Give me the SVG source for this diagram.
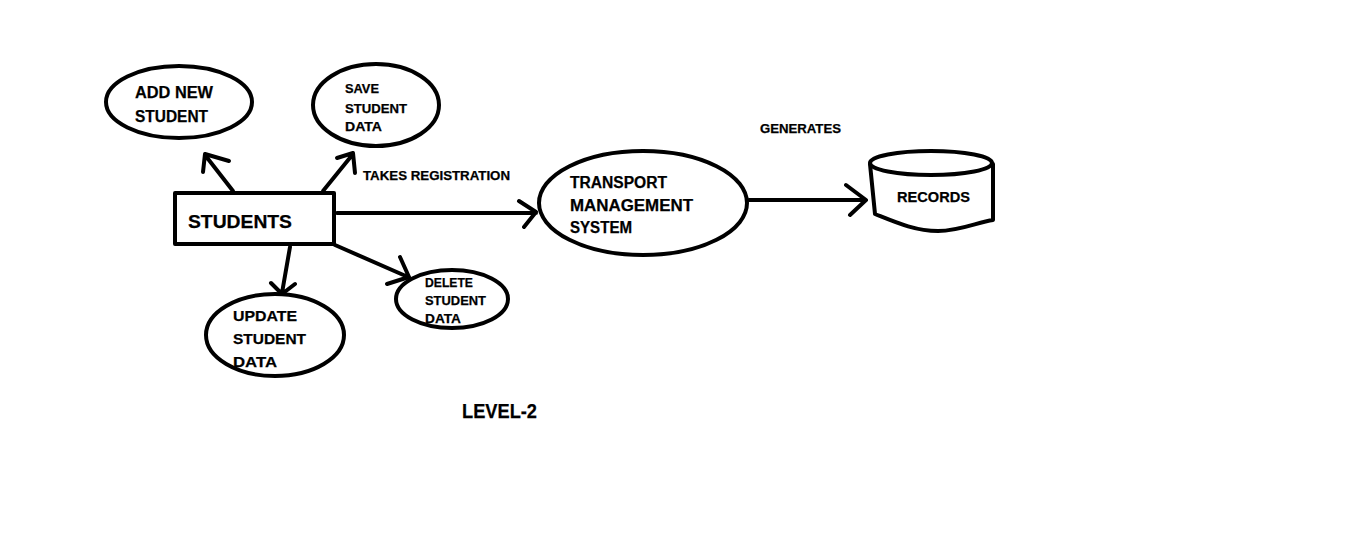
<svg xmlns="http://www.w3.org/2000/svg" width="1354" height="556" viewBox="0 0 1354 556">
<style>
.s{fill:none;stroke:#000;stroke-width:4;stroke-linecap:round;stroke-linejoin:round}
.c{fill:none;stroke:#000;stroke-width:4;stroke-linecap:round;stroke-linejoin:round}
text{font-family:"Liberation Sans",Arial,sans-serif;font-weight:bold;fill:#000;stroke:#000;stroke-width:0.25}
</style>
<rect width="1354" height="556" fill="#fff"/>
<g id="connectors">
<path class="c" d="M233,191 L205,155 M229,161 L205,154 L203,172"/>
<path class="c" d="M323,191 L353,154 M337,158 L353,153 L355,173"/>
<path class="c" d="M337,213 L536,213 M519,201 L536,212 L524,227"/>
<path class="c" d="M290,247 L282,293 M271,283 L282,294 L295,284"/>
<path class="c" d="M335,245 L408,277 M400,257 L409,277 L387,284"/>
<path class="c" d="M749,200 L865,200 M846,185 L866,200 L850,215"/>
<text x="363" y="180" font-size="13" textLength="147" lengthAdjust="spacingAndGlyphs">TAKES REGISTRATION</text>
<text x="760" y="133" font-size="12.6" textLength="81" lengthAdjust="spacingAndGlyphs">GENERATES</text>
</g>
<g id="students">
<rect class="s" x="175" y="193" width="159" height="51"/>
<text x="188" y="228" font-size="18.6" textLength="104" lengthAdjust="spacingAndGlyphs">STUDENTS</text>
</g>
<g id="add-new-student">
<ellipse class="s" cx="179" cy="102" rx="73" ry="36"/>
<text x="135" y="98" font-size="16.3" textLength="78" lengthAdjust="spacingAndGlyphs">ADD NEW</text>
<text x="135" y="122" font-size="16.3" textLength="73" lengthAdjust="spacingAndGlyphs">STUDENT</text>
</g>
<g id="save-student-data">
<ellipse class="s" cx="376" cy="105" rx="63" ry="41"/>
<text x="345" y="93" font-size="12.5" textLength="34" lengthAdjust="spacingAndGlyphs">SAVE</text>
<text x="345" y="113" font-size="12.5" textLength="62" lengthAdjust="spacingAndGlyphs">STUDENT</text>
<text x="345" y="131" font-size="12.5" textLength="37" lengthAdjust="spacingAndGlyphs">DATA</text>
</g>
<g id="update-student-data">
<ellipse class="s" cx="275" cy="335" rx="69" ry="41"/>
<text x="233" y="321" font-size="15" textLength="64" lengthAdjust="spacingAndGlyphs">UPDATE</text>
<text x="233" y="344" font-size="15" textLength="73" lengthAdjust="spacingAndGlyphs">STUDENT</text>
<text x="233" y="367" font-size="15" textLength="44" lengthAdjust="spacingAndGlyphs">DATA</text>
</g>
<g id="delete-student-data">
<ellipse class="s" cx="452" cy="299" rx="56" ry="29"/>
<text x="425" y="287" font-size="13" textLength="48" lengthAdjust="spacingAndGlyphs">DELETE</text>
<text x="425" y="305" font-size="13" textLength="61" lengthAdjust="spacingAndGlyphs">STUDENT</text>
<text x="425" y="323" font-size="13" textLength="36" lengthAdjust="spacingAndGlyphs">DATA</text>
</g>
<g id="transport-management-system">
<ellipse class="s" cx="643" cy="203" rx="104" ry="52"/>
<text x="570" y="188" font-size="16" textLength="97" lengthAdjust="spacingAndGlyphs">TRANSPORT</text>
<text x="570" y="211" font-size="16" textLength="123" lengthAdjust="spacingAndGlyphs">MANAGEMENT</text>
<text x="570" y="233" font-size="16" textLength="62" lengthAdjust="spacingAndGlyphs">SYSTEM</text>
</g>
<g id="records">
<ellipse class="s" cx="931" cy="163" rx="61" ry="12"/>
<path class="s" d="M870,164 L875,214 C895,222 915,231 938,231 C960,231 978,222 993,220 L993,164"/>
<text x="897" y="202" font-size="15" textLength="73" lengthAdjust="spacingAndGlyphs">RECORDS</text>
</g>
<text x="462" y="418" font-size="21" textLength="75" lengthAdjust="spacingAndGlyphs">LEVEL-2</text>
</svg>
